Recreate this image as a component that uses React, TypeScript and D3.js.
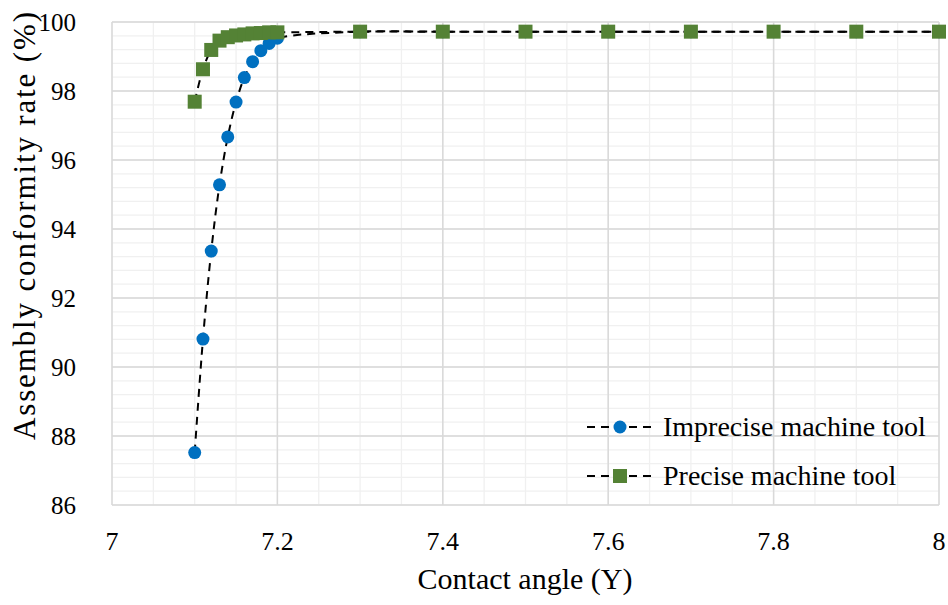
import React, { useEffect } from "react";
import * as d3 from "d3";

const xValues = [7.1, 7.11, 7.12, 7.13, 7.14, 7.15, 7.16, 7.17, 7.18, 7.19, 7.2, 7.3, 7.4, 7.5, 7.6, 7.7, 7.8, 7.9, 8.0];
const impreciseRate = [87.52, 90.81, 93.36, 95.28, 96.67, 97.68, 98.39, 98.85, 99.17, 99.38, 99.53, 99.72, 99.72, 99.72, 99.72, 99.72, 99.72, 99.72, 99.72];
const preciseRate = [97.69, 98.63, 99.19, 99.46, 99.56, 99.61, 99.64, 99.67, 99.68, 99.7, 99.7, 99.72, 99.72, 99.72, 99.72, 99.72, 99.72, 99.72, 99.72];
const xTicks = [7, 7.2, 7.4, 7.6, 7.8, 8];
const yTicks = [86, 88, 90, 92, 94, 96, 98, 100];
const seriesNames = ["Imprecise machine tool", "Precise machine tool"];
const xTitle = "Contact angle (Y)";
const yTitle = "Assembly conformity rate (%)";

const W = 948;
const H = 605;
const FONT = '"Liberation Serif", "DejaVu Serif", serif';

export default function App() {
  useEffect(() => {
    document.body.style.margin = "0";
  }, []);

  const x = d3.scaleLinear().domain([7, 8]).range([112, 939]);
  const y = d3.scaleLinear().domain([86, 100]).range([505, 22]);

  const minorX = d3.range(7, 8.0001, 0.05);
  const minorY = d3.range(86, 100.0001, 0.4);

  const line = d3
    .line<number>()
    .x((_, i) => x(xValues[i]))
    .y((d) => y(d))
    .curve(d3.curveCatmullRom.alpha(0.5));

  const fmtX = (v: number) => (Number.isInteger(v) ? String(v) : v.toFixed(1));

  const blue = "#0070C0";
  const green = "#548235";
  const sq = 14;
  const ts = { fontFamily: FONT };

  return (
    <svg width={W} height={H} style={{ display: "block", fontFamily: FONT }}>
      <rect width={W} height={H} fill="#fff" />
      {/* minor grid */}
      <g stroke="#f0f0f0" strokeWidth={1.3}>
        {minorX.map((v, i) => (
          <line key={"mx" + i} x1={x(v)} x2={x(v)} y1={y(86)} y2={y(100)} />
        ))}
        {minorY.map((v, i) => (
          <line key={"my" + i} x1={x(7)} x2={x(8)} y1={y(v)} y2={y(v)} />
        ))}
      </g>
      {/* major grid */}
      <g stroke="#d9d9d9" strokeWidth={1.5}>
        {xTicks.map((v) => (
          <line key={"Mx" + v} x1={x(v)} x2={x(v)} y1={y(86)} y2={y(100)} />
        ))}
        {yTicks.map((v) => (
          <line key={"My" + v} x1={x(7)} x2={x(8)} y1={y(v)} y2={y(v)} />
        ))}
      </g>
      {/* lines */}
      <path d={line(impreciseRate) || ""} fill="none" stroke="#000" strokeWidth={2} strokeDasharray="8 6" />
      <path d={line(preciseRate) || ""} fill="none" stroke="#000" strokeWidth={2} strokeDasharray="8 6" />
      {/* markers */}
      {impreciseRate.map((v, i) => (
        <circle key={"b" + i} cx={x(xValues[i])} cy={y(v)} r={6.5} fill={blue} />
      ))}
      {preciseRate.map((v, i) => (
        <rect key={"g" + i} x={x(xValues[i]) - sq / 2} y={y(v) - sq / 2} width={sq} height={sq} fill={green} />
      ))}
      {/* y ticks */}
      {yTicks.map((v) => (
        <text key={"yt" + v} x={76} y={y(v)} dy="0.35em" textAnchor="end" fontSize={25} fill="#000" style={ts}>
          {v}
        </text>
      ))}
      {/* x ticks */}
      {xTicks.map((v) => (
        <text key={"xt" + v} x={x(v)} y={541} dy="0.35em" textAnchor="middle" fontSize={26} fill="#000" style={ts}>
          {fmtX(v)}
        </text>
      ))}
      {/* axis titles */}
      <text x={525} y={589} textAnchor="middle" fontSize={30} fill="#000" style={ts}>
        {xTitle}
      </text>
      <text
        transform={`translate(35,226) rotate(-90)`}
        textAnchor="middle"
        fontSize={31}
        textLength={428}
        lengthAdjust="spacing"
        fill="#000"
        style={ts}
      >
        {yTitle}
      </text>
      {/* legend */}
      {seriesNames.map((name, i) => {
        const ly = i === 0 ? 427 : 476;
        return (
          <g key={name}>
            <line x1={587} x2={652} y1={ly} y2={ly} stroke="#000" strokeWidth={2} strokeDasharray="8 6" />
            {i === 0 ? (
              <circle cx={620} cy={ly} r={6.5} fill={blue} />
            ) : (
              <rect x={620 - sq / 2} y={ly - sq / 2} width={sq} height={sq} fill={green} />
            )}
            <text x={663} y={ly} dy="0.33em" fontSize={28} fill="#000" style={ts}>
              {name}
            </text>
          </g>
        );
      })}
    </svg>
  );
}
